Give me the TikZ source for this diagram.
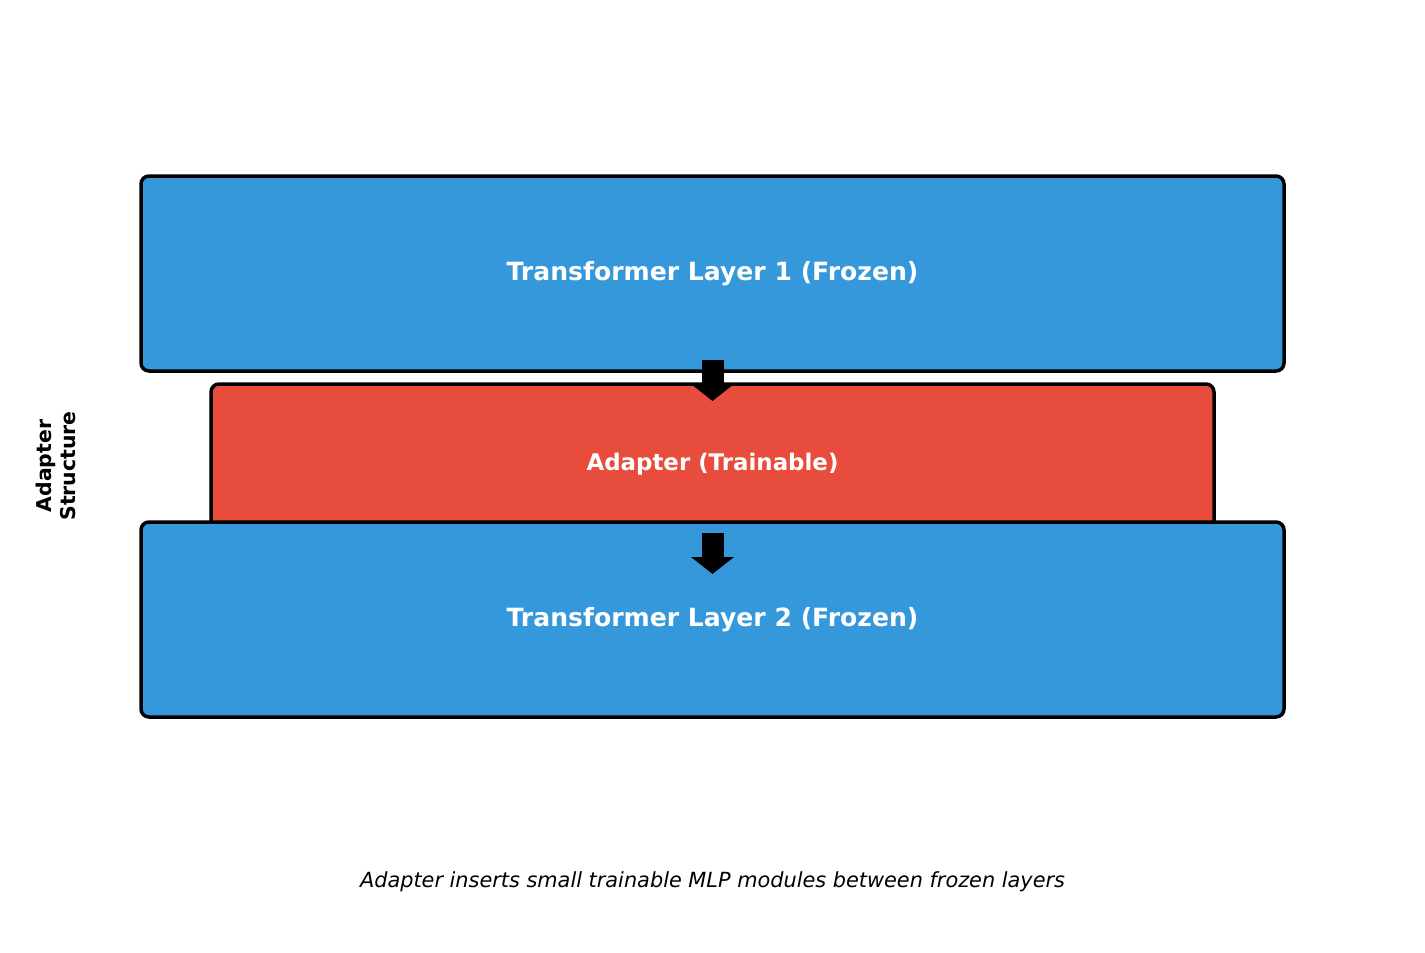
\documentclass[tikz,border=0pt]{standalone}
\usepackage{fontspec}
\setmainfont{DejaVu Sans}
\usetikzlibrary{arrows.meta,calc}
\definecolor{frozenblue}{HTML}{3498DB}
\definecolor{trainred}{HTML}{E74C3C}
\begin{document}
\begin{tikzpicture}[x=0.5pt,y=-0.5pt,
  layerbox/.style={draw=black,line width=1.75pt,rounded corners=4pt,fill=frozenblue,
    minimum width=571.5pt,minimum height=97.5pt,inner sep=0pt,outer sep=0pt,
    text=white,font=\bfseries\fontsize{12.55}{14}\selectfont},
  adapterbox/.style={draw=black,line width=1.75pt,rounded corners=4pt,fill=trainred,
    minimum width=501.5pt,minimum height=80pt,inner sep=0pt,outer sep=0pt,
    text=white,font=\bfseries\fontsize{11.45}{13}\selectfont},
  flowarrow/.style={line width=11pt,line cap=butt,-{Triangle[width=21pt,length=8.5pt]}},
  sidelabel/.style={font=\bfseries\fontsize{10.2}{12}\selectfont,align=center,rotate=90},
  caption/.style={font=\itshape\fontsize{10.42}{12}\selectfont}]
\useasboundingbox (0,0) rectangle (1425,953);
\node[layerbox] (l1) at (712.5,273.5) {Transformer Layer 1 (Frozen)};
\node[adapterbox] (ad) at (712.5,464) {Adapter (Trainable)};
\node[layerbox] (l2) at (712.5,619.5) {Transformer Layer 2 (Frozen)};
\coordinate (a1s) at ($(l1.south)+(0,-11)$);
\coordinate (a1e) at ($(ad.north)+(0,17)$);
\coordinate (a2s) at ($(l2.north)+(0,11)$);
\coordinate (a2e) at ($(l2.north)+(0,52)$);
\draw[flowarrow] (a1s) -- (a1e);
\draw[flowarrow] (a2s) -- (a2e);
\node[sidelabel] (side) at (56,466) {Adapter\\Structure};
\node[caption] (cap) at (712.5,881.5) {Adapter inserts small trainable MLP modules between frozen layers};
\end{tikzpicture}
\end{document}
